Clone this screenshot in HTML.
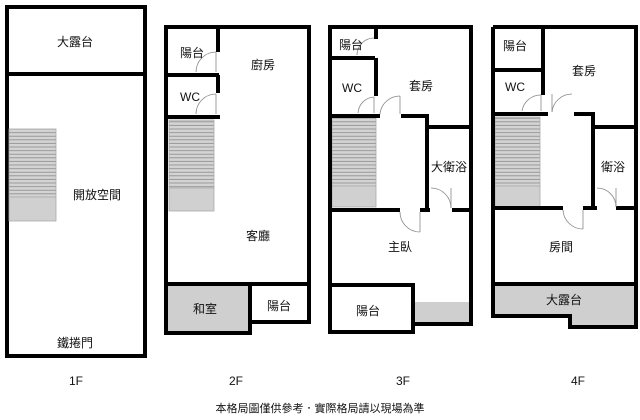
<!DOCTYPE html>
<html><head><meta charset="utf-8"><style>
html,body{margin:0;padding:0;background:#fff;}
svg{display:block}
text{font-family:"Liberation Sans","Noto Sans CJK TC",sans-serif;font-size:12px;fill:#111;text-anchor:middle;dominant-baseline:central}
</style></head><body>
<svg width="640" height="420" viewBox="0 0 640 420" xmlns="http://www.w3.org/2000/svg">
<defs>
<pattern id="st" width="10" height="3.6" patternUnits="userSpaceOnUse">
<rect width="10" height="3.6" fill="#d4d4d4"/><line x1="0" y1="3" x2="10" y2="3" stroke="#8a8a8a" stroke-width="0.8"/>
</pattern>
</defs>
<g fill="none" stroke="#000" stroke-width="4">
<!-- 1F -->
<rect x="7" y="7" width="138" height="349"/>
<line x1="7" y1="74" x2="145" y2="74"/>
</g>
<rect x="9" y="129" width="47" height="68" fill="url(#st)" stroke="#aaa" stroke-width="0.8"/>
<rect x="9" y="197" width="47" height="24" fill="#d0d0d0" stroke="#aaa" stroke-width="0.8"/>
<text x="75" y="42">大露台</text>
<text x="97" y="195">開放空間</text>
<text x="75" y="343">鐵捲門</text>
<text x="76" y="381">1F</text>

<!-- 2F -->
<rect x="167" y="286" width="82" height="46" fill="#cfcfcf"/>
<rect x="169" y="120" width="45" height="68" fill="url(#st)" stroke="#aaa" stroke-width="0.8"/>
<rect x="169" y="188" width="45" height="23" fill="#d0d0d0" stroke="#aaa" stroke-width="0.8"/>
<g fill="none" stroke="#000" stroke-width="4">
<rect x="166" y="27" width="143" height="257"/>
<rect x="166" y="284" width="84" height="49"/>
<polyline points="250,284 250,322 309,322 309,284"/>
<line x1="166" y1="75" x2="219" y2="75"/>
<line x1="166" y1="117" x2="220" y2="117"/>
<line x1="218" y1="27" x2="218" y2="52"/>
<line x1="218" y1="75" x2="218" y2="93"/>
</g>
<g fill="none" stroke="#888" stroke-width="0.8">
<path d="M196,72 A20,20 0 0 1 216,52"/><line x1="216" y1="52" x2="216" y2="72"/>
<path d="M196,114 A20,20 0 0 1 216,94"/><line x1="216" y1="94" x2="216" y2="114"/>
</g>
<text x="192" y="53">陽台</text>
<text x="190" y="97">WC</text>
<text x="263" y="65">廚房</text>
<text x="258" y="236">客廳</text>
<text x="205" y="309">和室</text>
<text x="279" y="306">陽台</text>
<text x="236" y="381">2F</text>

<!-- 3F -->
<rect x="414" y="302" width="55" height="20" fill="#cfcfcf"/>
<rect x="332" y="118" width="44" height="68" fill="url(#st)" stroke="#aaa" stroke-width="0.8"/>
<rect x="332" y="186" width="44" height="21" fill="#d0d0d0" stroke="#aaa" stroke-width="0.8"/>
<g fill="none" stroke="#000" stroke-width="4">
<polyline points="413,324 471,324 471,27 330,27 330,332 413,332 413,285 330,285"/>
<line x1="330" y1="58" x2="375" y2="58"/>
<line x1="376" y1="27" x2="376" y2="39"/>
<line x1="376" y1="58" x2="376" y2="96"/>
<line x1="330" y1="116" x2="380" y2="116"/>
<polyline points="401,116 427,116 427,210"/>
<line x1="427" y1="127" x2="471" y2="127"/>
<line x1="330" y1="210" x2="400" y2="210"/>
<line x1="420" y1="210" x2="430" y2="210"/>
<line x1="452" y1="210" x2="471" y2="210"/>
</g>
<g fill="none" stroke="#888" stroke-width="0.8">
<path d="M357,55 A17,17 0 0 1 374,38"/>
<path d="M358,113 A17,17 0 0 1 374,97"/><line x1="374" y1="97" x2="374" y2="113"/>
<path d="M380,114 A20,20 0 0 1 400,96"/><line x1="400" y1="96" x2="400" y2="114"/>
<path d="M400,212 A20,20 0 0 0 420,232"/><line x1="420" y1="212" x2="420" y2="232"/>
<path d="M431,188 A20,20 0 0 1 451,208"/><line x1="451" y1="188" x2="451" y2="208"/>
</g>
<text x="351" y="45">陽台</text>
<text x="352" y="88">WC</text>
<text x="421" y="86">套房</text>
<text x="449" y="167">大衛浴</text>
<text x="400" y="247">主臥</text>
<text x="368" y="311">陽台</text>
<text x="403" y="381">3F</text>

<!-- 4F -->
<path d="M493,285 L634,285 L634,325 L570,325 L570,316 L493,316 Z" fill="#cfcfcf"/>
<rect x="495" y="117" width="45" height="69" fill="url(#st)" stroke="#aaa" stroke-width="0.8"/>
<rect x="495" y="186" width="45" height="21" fill="#d0d0d0" stroke="#aaa" stroke-width="0.8"/>
<g fill="none" stroke="#000" stroke-width="4">
<polyline points="493,27 636,27 636,327 570,327 570,316 493,316 493,27"/>
<line x1="493" y1="284" x2="636" y2="284"/>
<line x1="493" y1="70" x2="543" y2="70"/>
<line x1="543" y1="27" x2="543" y2="95"/>
<line x1="493" y1="114" x2="548" y2="114"/>
<polyline points="574,114 593,114 593,208"/>
<line x1="593" y1="127" x2="636" y2="127"/>
<line x1="493" y1="208" x2="563" y2="208"/>
<line x1="583" y1="208" x2="597" y2="208"/>
<line x1="616" y1="208" x2="636" y2="208"/>
</g>
<g fill="none" stroke="#888" stroke-width="0.8">
<path d="M522,111 A19,19 0 0 1 541,95"/><line x1="541" y1="95" x2="541" y2="111"/>
<path d="M552,112 A20,20 0 0 1 572,94"/><line x1="552" y1="94" x2="552" y2="112"/>
<path d="M563,210 A20,20 0 0 0 583,229"/><line x1="583" y1="210" x2="583" y2="229"/>
<path d="M597,188 A19,19 0 0 1 616,207"/><line x1="616" y1="188" x2="616" y2="207"/>
</g>
<text x="515" y="46">陽台</text>
<text x="515" y="87">WC</text>
<text x="584" y="71">套房</text>
<text x="613" y="167">衛浴</text>
<text x="561" y="247">房間</text>
<text x="564" y="300">大露台</text>
<text x="578" y="381">4F</text>

<text x="320" y="409" style="font-size:11px">本格局圖僅供參考．實際格局請以現場為準</text>
</svg>
</body></html>
